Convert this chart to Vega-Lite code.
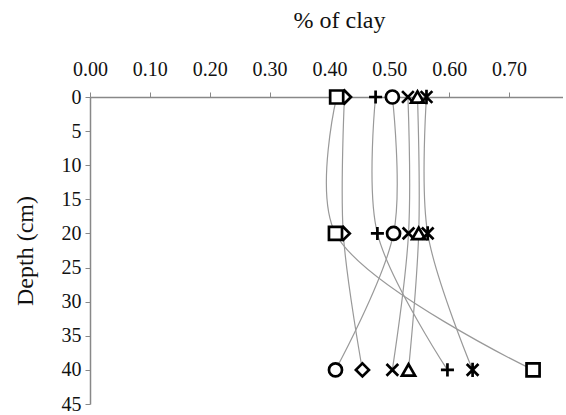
{
  "$schema": "https://vega.github.io/schema/vega-lite/v6.json",
  "autosize": {"type": "none"},
  "padding": {"left": 90, "top": 97, "right": 0, "bottom": 10},
  "width": 473,
  "height": 307,
  "background": "white",
  "config": {
    "view": {"stroke": null},
    "font": "Liberation Serif",
    "axis": {
      "grid": false,
      "domainColor": "#888",
      "domainWidth": 1.5,
      "tickColor": "#888",
      "tickSize": 5,
      "labelFlush": false,
      "labelOverlap": false,
      "labelFontSize": 20,
      "labelColor": "#111",
      "titleFontSize": 24,
      "titleFontWeight": "normal",
      "titleColor": "#111"
    }
  },
  "data": {
    "values": [
      {"series": "diamond", "depth": 0, "clay": 0.425},
      {"series": "diamond", "depth": 20, "clay": 0.423},
      {"series": "diamond", "depth": 40, "clay": 0.455},
      {"series": "plus", "depth": 0, "clay": 0.477},
      {"series": "plus", "depth": 20, "clay": 0.48},
      {"series": "plus", "depth": 40, "clay": 0.597},
      {"series": "circle", "depth": 0, "clay": 0.505},
      {"series": "circle", "depth": 20, "clay": 0.507},
      {"series": "circle", "depth": 40, "clay": 0.41},
      {"series": "x", "depth": 0, "clay": 0.531},
      {"series": "x", "depth": 20, "clay": 0.532},
      {"series": "x", "depth": 40, "clay": 0.505},
      {"series": "triangle", "depth": 0, "clay": 0.547},
      {"series": "triangle", "depth": 20, "clay": 0.549},
      {"series": "triangle", "depth": 40, "clay": 0.532},
      {"series": "asterisk", "depth": 0, "clay": 0.562},
      {"series": "asterisk", "depth": 20, "clay": 0.564},
      {"series": "asterisk", "depth": 40, "clay": 0.639},
      {"series": "square", "depth": 0, "clay": 0.412},
      {"series": "square", "depth": 20, "clay": 0.41},
      {"series": "square", "depth": 40, "clay": 0.74}
    ]
  },
  "encoding": {
    "x": {
      "field": "clay", "type": "quantitative",
      "scale": {"domain": [0, 0.79], "nice": false, "zero": false},
      "axis": {
        "orient": "top",
        "title": "% of clay",
        "titleX": 249,
        "values": [0, 0.1, 0.2, 0.3, 0.4, 0.5, 0.6, 0.7],
        "format": ".2f",
        "labelFont": "Liberation Serif",
        "titleFont": "Liberation Serif",
        "labelPadding": 13,
        "titlePadding": 27
      }
    },
    "y": {
      "field": "depth", "type": "quantitative",
      "scale": {"domain": [0, 45], "reverse": true, "nice": false},
      "axis": {
        "title": "Depth (cm)",
        "values": [0, 5, 10, 15, 20, 25, 30, 35, 40, 45],
        "labelFont": "Liberation Serif",
        "titleFont": "Liberation Serif",
        "labelPadding": 4,
        "titlePadding": 24
      }
    }
  },
  "layer": [
    {
      "mark": {"type": "line", "interpolate": "catmull-rom", "color": "#999", "strokeWidth": 1.2},
      "encoding": {
        "detail": {"field": "series"},
        "order": {"field": "depth", "type": "quantitative"}
      }
    },
    {
      "mark": {"type": "point", "fill": "white", "stroke": "black", "strokeWidth": 2.7, "opacity": 1, "size": 170},
      "encoding": {
        "shape": {
          "field": "series", "type": "nominal",
          "scale": {
            "domain": ["square", "diamond", "plus", "circle", "x", "triangle", "asterisk"],
            "range": ["square", "diamond", "M0,-1V1M-1,0H1", "circle", "M-0.9,-0.9L0.9,0.9M0.9,-0.9L-0.9,0.9", "triangle-up", "M-0.9,-0.9L0.9,0.9M0.9,-0.9L-0.9,0.9M0,-1.1V1.1"]
          },
          "legend": null
        }
      }
    }
  ]
}
